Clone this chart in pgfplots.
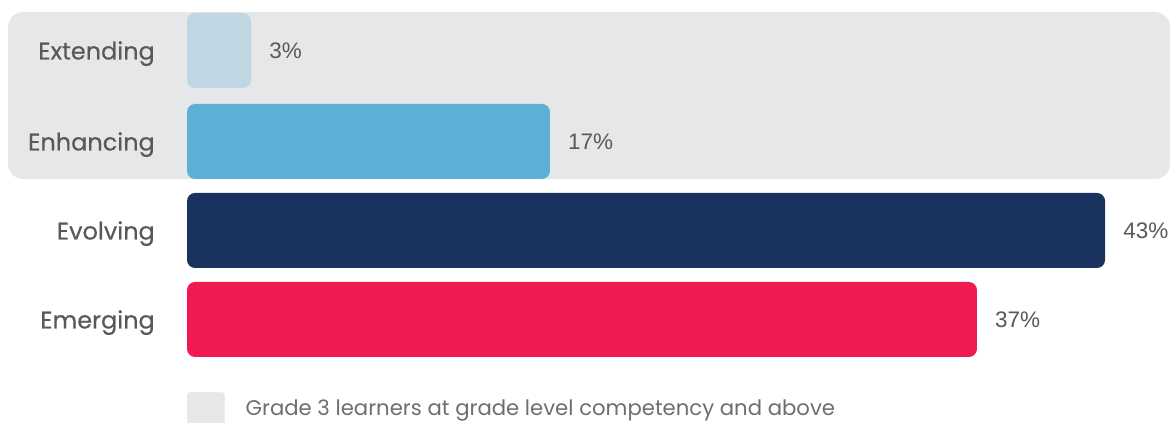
\documentclass[border=0pt]{standalone}
\usepackage{pgfplots}
\pgfplotsset{compat=1.18}
\usepackage{fontspec}
\setmainfont{Poppins}
\newfontfamily\labfont{Poppins}[FakeBold=0.35]
\newfontfamily\valfont{Liberation Sans}
\definecolor{cext}{HTML}{BED7E3}
\definecolor{cenh}{HTML}{5EAFD5}
\definecolor{cevo}{HTML}{19335E}
\definecolor{ceme}{HTML}{ED1B4F}
\definecolor{bggray}{HTML}{E6E7E9}
\definecolor{labgray}{HTML}{58595B}
\definecolor{valgray}{HTML}{595959}
\definecolor{leggray}{HTML}{6D6E71}
\begin{document}
\begin{tikzpicture}
\begin{axis}[
  x=21.35pt, y=1pt,
  xmin=-8.76, xmax=46.23, ymin=0, ymax=423,
  hide axis, clip=false,
  xbar, bar width=75pt, bar shift=0pt,
  point meta=x,
  /pgf/number format/assume math mode=true,
  nodes near coords={\pgfmathprintnumber{\pgfplotspointmeta}\%},
  nodes near coords style={font=\valfont\fontsize{22.5}{26}\selectfont, text=valgray, anchor=west, inner sep=0pt, xshift=18pt},
  legend style={at={(axis cs:0,31)}, anchor=north west, draw=none, fill=none, inner sep=0pt,
    font=\fontsize{21.2}{25}\selectfont, text=leggray, legend cell align=left,
    /tikz/every odd column/.append style={column sep=19pt}},
]
\fill[bggray, rounded corners=15pt] (axis cs:-8.38,244) rectangle (axis cs:46.04,411);
\addplot[forget plot, fill=cext, draw=none, rounded corners=8pt] coordinates {(3,372.5)};
\addplot[forget plot, fill=cenh, draw=none, rounded corners=8pt] coordinates {(17,281.5)};
\addplot[forget plot, fill=cevo, draw=none, rounded corners=8pt] coordinates {(43,192.5)};
\addplot[forget plot, fill=ceme, draw=none, rounded corners=8pt] coordinates {(37,103.5)};
\addlegendimage{legend image code/.code={\fill[bggray, rounded corners=3pt] (0pt,-21pt) rectangle (37pt,16pt);}}
\addlegendentry{Grade 3 learners at grade level competency and above}
\foreach \lab/\yy in {Extending/372.5, Enhancing/281.5, Evolving/192.5, Emerging/103.5}{
  \edef\tmp{\noexpand\node[anchor=base east, inner sep=0pt, text=labgray, font=\noexpand\labfont\noexpand\fontsize{24}{28}\noexpand\selectfont] at (axis cs:-1.5,\yy-9) {\lab};}
  \tmp
}
\end{axis}
\pgfresetboundingbox
\path[use as bounding box] (current axis.south west) rectangle (current axis.north east);
\end{tikzpicture}
\end{document}
